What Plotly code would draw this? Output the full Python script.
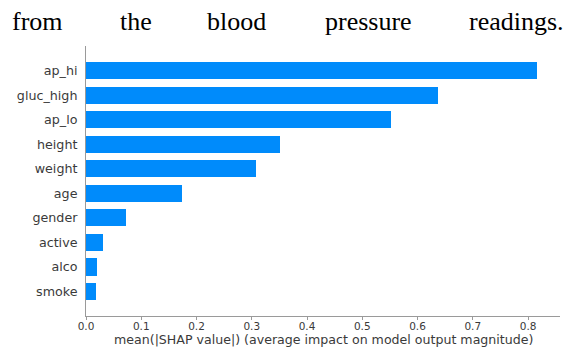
import plotly.graph_objects as go

# Mean |SHAP| value per feature (smallest first so the largest sits on top)
features = ["smoke", "alco", "active", "gender", "age",
            "weight", "height", "ap_lo", "gluc_high", "ap_hi"]
mean_abs_shap = [0.018, 0.0205, 0.031, 0.072, 0.174,
                 0.307, 0.351, 0.5525, 0.6365, 0.817]

x_ticks = [0.0, 0.1, 0.2, 0.3, 0.4, 0.5, 0.6, 0.7, 0.8]
x_title = "mean(|SHAP value|) (average impact on model output magnitude)"

caption_words = ["from", "the", "blood", "pressure", "readings."]

W, H = 566, 349
M_L, M_R, M_T, M_B = 86, 6, 46, 33
plot_w = W - M_L - M_R
plot_h = H - M_T - M_B

positions = list(range(len(features)))

fig = go.Figure(
    go.Bar(
        x=mean_abs_shap,
        y=positions,
        orientation="h",
        width=0.7,
        marker=dict(color="#008bfb", line=dict(width=0)),
        hoverinfo="skip",
    )
)

axis_grey = "#9a9a9a"
label_grey = "#3a3a3a"

fig.update_xaxes(
    range=[0, max(mean_abs_shap) * 1.05],
    tickvals=x_ticks,
    ticktext=[f"{v:.1f}" for v in x_ticks],
    ticks="outside",
    ticklen=3,
    tickwidth=1,
    tickcolor=axis_grey,
    ticklabelstandoff=-3,
    showline=True,
    linecolor=axis_grey,
    linewidth=1,
    showgrid=False,
    zeroline=False,
    tickfont=dict(family="DejaVu Sans", size=10.5, color=label_grey),
)
fig.update_yaxes(
    range=[-1, len(features)],
    tickvals=positions,
    ticktext=features,
    ticks="",
    ticklabelstandoff=5,
    showline=True,
    linecolor=axis_grey,
    linewidth=1,
    showgrid=False,
    zeroline=False,
    tickfont=dict(family="DejaVu Sans", size=12.7, color=label_grey),
)


def px_to_paper_x(px):
    return (px - M_L) / plot_w


def px_to_paper_y(py):
    return 1 + (M_T - py) / plot_h


# x-axis title, set just below the tick labels
fig.add_annotation(
    text=x_title,
    x=0.5,
    y=px_to_paper_y(339.5),
    xref="paper",
    yref="paper",
    xanchor="center",
    yanchor="middle",
    showarrow=False,
    borderpad=0,
    font=dict(family="DejaVu Sans", size=12.6, color=label_grey),
)

# Justified line of body text above the chart, one word per annotation
word_left_px = [10, 118, 205, 323, 467]

for word, left in zip(caption_words, word_left_px):
    fig.add_annotation(
        text=word,
        x=px_to_paper_x(left),
        y=px_to_paper_y(21),
        xref="paper",
        yref="paper",
        xanchor="left",
        yanchor="middle",
        showarrow=False,
        font=dict(family="Liberation Serif", size=26, color="#000000"),
    )

fig.update_layout(
    width=W,
    height=H,
    margin=dict(l=M_L, r=M_R, t=M_T, b=M_B, autoexpand=False),
    paper_bgcolor="white",
    plot_bgcolor="white",
    showlegend=False,
    bargap=0,
)

fig.write_html("out.html")
